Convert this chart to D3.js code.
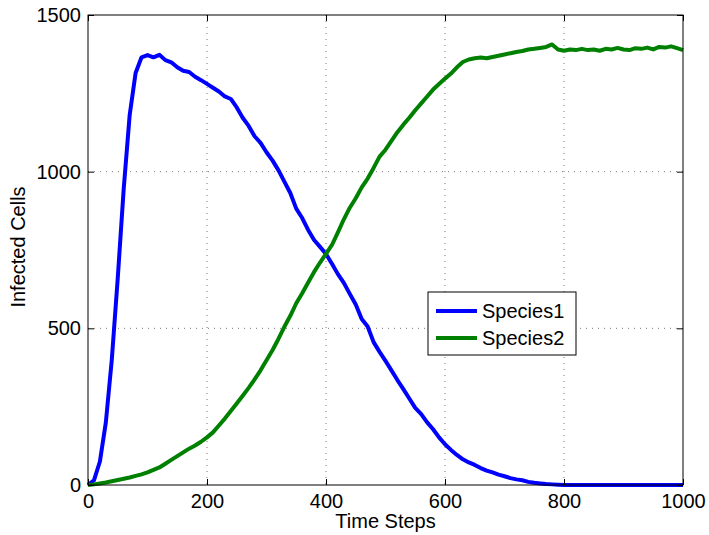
<!DOCTYPE html>
<html>
<head>
<meta charset="utf-8">
<script src="https://cdn.jsdelivr.net/npm/d3@7"></script>
<style>
  body { margin: 0; background: #fff; }
  svg text { font-family: "Liberation Sans", Arial, Helvetica, sans-serif; fill: #000; }
</style>
</head>
<body>
<svg id="chart" width="709" height="535"></svg>
<script>
// time steps, every 10
let steps = d3.range(0, 1001, 10);

let species1 = [0, 15, 75, 200, 400, 660, 945, 1180, 1315, 1365,
    1372, 1365, 1373, 1356, 1349, 1333, 1322, 1318, 1303, 1292,
    1280, 1268, 1256, 1240, 1232, 1205, 1172, 1146, 1113, 1092,
    1062, 1036, 1005, 968, 932, 882, 852, 814, 782, 760,
    737, 706, 673, 645, 610, 576, 530, 506, 456, 425,
    396, 366, 335, 306, 276, 246, 226, 200, 178, 152,
    130, 112, 96, 82, 72, 64, 54, 46, 40, 33,
    28, 22, 18, 15, 10, 7, 5, 3, 2, 1,
    0, 0, 0, 0, 0, 0, 0, 0, 0, 0,
    0, 0, 0, 0, 0, 0, 0, 0, 0, 0, 0];

let species2 = [0, 2, 5, 8, 12, 16, 20, 24, 29, 34,
    40, 48, 56, 68, 80, 92, 104, 116, 126, 138,
    152, 168, 190, 212, 236, 260, 285, 310, 337, 366,
    398, 430, 466, 505, 540, 580, 612, 646, 680, 710,
    738, 766, 806, 848, 885, 915, 950, 978, 1012, 1048,
    1070, 1098, 1126, 1150, 1172, 1196, 1218, 1240, 1262, 1280,
    1297, 1313, 1333, 1350, 1358, 1362, 1364, 1362, 1366, 1370,
    1374, 1378, 1382, 1385, 1390, 1392, 1395, 1398, 1406, 1390,
    1386, 1390, 1388, 1392, 1388, 1390, 1386, 1392, 1390, 1395,
    1390, 1388, 1394, 1392, 1396, 1390, 1398, 1396, 1400, 1394, 1388];

let seriesNames = ["Species1", "Species2"];
let seriesColors = ["#0000ff", "#008000"];
let xTicks = [0, 200, 400, 600, 800, 1000];
let yTicks = [0, 500, 1000, 1500];

let margin = {top: 15, right: 26, bottom: 50, left: 88};
let width = 709 - margin.left - margin.right;
let height = 535 - margin.top - margin.bottom;

let svg = d3.select("#chart");
let g = svg.append("g").attr("transform", "translate(" + margin.left + "," + margin.top + ")");

let x = d3.scaleLinear().domain([0, 1000]).range([0, width]);
let y = d3.scaleLinear().domain([0, 1500]).range([height, 0]);

// grid
g.append("g").selectAll("line").data(xTicks.slice(1, -1)).enter()
    .append("line")
    .attr("x1", d => x(d)).attr("x2", d => x(d))
    .attr("y1", 0).attr("y2", height)
    .attr("stroke", "#777").attr("stroke-width", 1)
    .attr("stroke-dasharray", "1,5");
g.append("g").selectAll("line").data(yTicks.slice(1, -1)).enter()
    .append("line")
    .attr("y1", d => y(d)).attr("y2", d => y(d))
    .attr("x1", 0).attr("x2", width)
    .attr("stroke", "#777").attr("stroke-width", 1)
    .attr("stroke-dasharray", "1,5");

// lines
let line = d3.line().x((d, i) => x(steps[i])).y(d => y(d));
[species1, species2].forEach((s, k) => {
    g.append("path")
        .datum(s)
        .attr("d", line)
        .attr("fill", "none")
        .attr("stroke", seriesColors[k])
        .attr("stroke-width", 4)
        .attr("stroke-linejoin", "round");
});

// axes (ticks pointing inwards, matlab style)
let styleAxis = sel => {
    sel.select(".domain").remove();
    sel.selectAll(".tick line").attr("stroke", "#000");
    sel.selectAll(".tick text").attr("font-size", "20px")
        .attr("font-family", "Liberation Sans, Arial, sans-serif");
};
g.append("g").attr("transform", "translate(0," + height + ")")
    .call(d3.axisBottom(x).tickValues(xTicks).tickSize(-6).tickPadding(9).tickFormat(d3.format("d")))
    .call(styleAxis);
g.append("g")
    .call(d3.axisTop(x).tickValues(xTicks).tickSize(-6).tickFormat(""))
    .call(styleAxis);
g.append("g")
    .call(d3.axisLeft(y).tickValues(yTicks).tickSize(-6).tickPadding(7).tickFormat(d3.format("d")))
    .call(styleAxis);
g.append("g").attr("transform", "translate(" + width + ",0)")
    .call(d3.axisRight(y).tickValues(yTicks).tickSize(-6).tickFormat(""))
    .call(styleAxis);

g.append("rect")
    .attr("width", width).attr("height", height)
    .attr("fill", "none").attr("stroke", "#000").attr("stroke-width", 1);

// axis labels
svg.append("text")
    .attr("x", margin.left + width / 2).attr("y", 528)
    .attr("text-anchor", "middle").attr("font-size", "20px")
    .text("Time Steps");
svg.append("text")
    .attr("transform", "translate(25," + (margin.top + height / 2 - 3) + ") rotate(-90)")
    .attr("text-anchor", "middle").attr("font-size", "20px")
    .text("Infected Cells");

// legend
let leg = svg.append("g").attr("transform", "translate(428,292)");
leg.append("rect").attr("width", 148).attr("height", 63)
    .attr("fill", "#fff").attr("stroke", "#000").attr("stroke-width", 1);
seriesNames.forEach((name, i) => {
    let yy = 19 + i * 27;
    leg.append("line").attr("x1", 8).attr("x2", 49).attr("y1", yy).attr("y2", yy)
        .attr("stroke", seriesColors[i]).attr("stroke-width", 4);
    leg.append("text").attr("x", 54).attr("y", yy + 7)
        .attr("font-size", "20px").text(name);
});
</script>
</body>
</html>
